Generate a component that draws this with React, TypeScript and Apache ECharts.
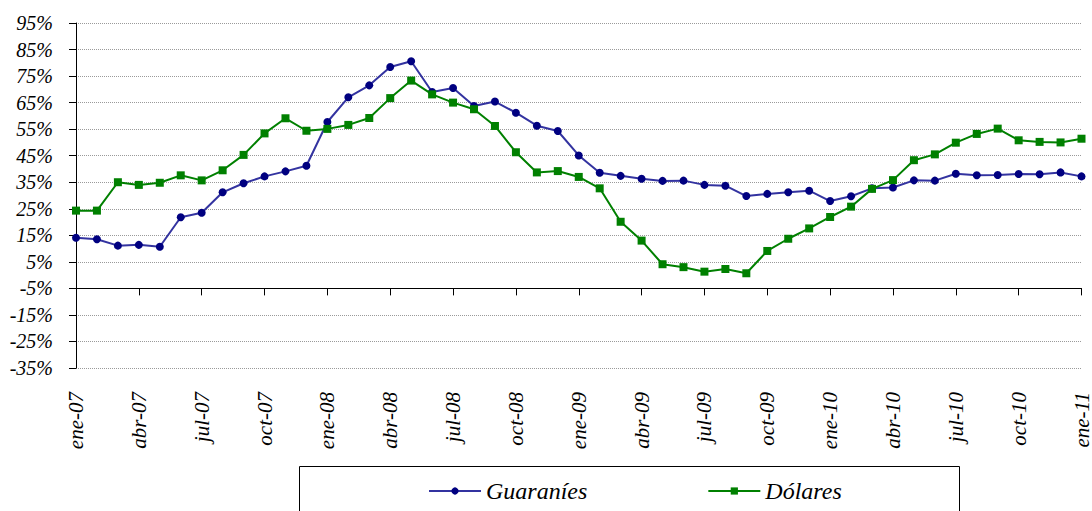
import React, { useEffect, useRef } from "react";
import * as echarts from "echarts";

const monthNames = ["ene", "feb", "mar", "abr", "may", "jun", "jul", "ago", "sep", "oct", "nov", "dic"];
const years = ["07", "08", "09", "10"];
const categories: string[] = [];
years.forEach((y) => monthNames.forEach((m) => categories.push(`${m}-${y}`)));
categories.push("ene-11");

const guaranies = [
  14.1, 13.5, 11.1, 11.4, 10.7, 21.8, 23.5, 31.2, 34.6, 37.2, 39.1, 41.2,
  57.7, 67.0, 71.5, 78.4, 80.6, 69.0, 70.5, 63.7, 65.4, 61.2, 56.3, 54.3,
  45.1, 38.6, 37.4, 36.3, 35.5, 35.6, 34.0, 33.7, 29.8, 30.6, 31.2, 31.8,
  27.9, 29.7, 32.7, 33.0, 35.7, 35.6, 38.2, 37.6, 37.7, 38.1, 38.0, 38.7,
  37.2,
];

const dolares = [
  24.3, 24.3, 35.0, 34.0, 34.8, 37.6, 35.7, 39.5, 45.3, 53.4, 59.1, 54.4,
  55.1, 56.6, 59.2, 66.7, 73.3, 68.1, 65.0, 62.5, 56.2, 46.3, 38.7, 39.2,
  37.0, 32.7, 20.1, 13.0, 4.1, 3.0, 1.3, 2.3, 0.7, 9.1, 13.7, 17.6,
  21.9, 25.8, 32.5, 35.8, 43.3, 45.5, 49.9, 53.2, 55.2, 50.8, 50.2, 50.0,
  51.4,
];

// axis range in percent; ticks every 10 starting at -35
const Y_MIN = -35;
const Y_MAX = 95;
const Y_STEP = 10;
// offset so that the tick origin is a multiple of the interval
const OFFSET = 5;

const FONT = "Liberation Serif";

export default function App() {
  const ref = useRef<HTMLDivElement>(null);
  useEffect(() => {
    if (!ref.current) return;
    const chart = echarts.init(ref.current, undefined, { renderer: "svg" });
    chart.setOption({
      animation: false,
      backgroundColor: "#ffffff",
      textStyle: { fontFamily: FONT },
      grid: { left: 76, right: 10, top: 23, bottom: 143, containLabel: false },
      xAxis: {
        type: "category",
        data: categories,
        boundaryGap: false,
        axisLine: { lineStyle: { color: "#000", width: 1 } },
        axisTick: { show: true, interval: 2, length: 7, lineStyle: { color: "#000" } },
        axisLabel: {
          interval: 2,
          rotate: 90,
          margin: 24,
          color: "#000",
          fontFamily: FONT,
          fontStyle: "italic",
          fontSize: 21,
        },
        splitLine: { show: false },
      },
      yAxis: {
        type: "value",
        min: Y_MIN + OFFSET,
        max: Y_MAX + OFFSET,
        interval: Y_STEP,
        axisLine: { show: true, lineStyle: { color: "#000", width: 1 } },
        axisTick: { show: true, length: 7, lineStyle: { color: "#000" } },
        axisLabel: {
          margin: 23,
          color: "#000",
          fontFamily: FONT,
          fontStyle: "italic",
          fontSize: 20,
          formatter: (v: number) => `${Math.round(v - OFFSET)}%`,
        },
        splitLine: { show: true, lineStyle: { color: "#9a9a9a", type: "dotted", width: 1 } },
      },
      legend: {
        left: 423,
        top: 474,
        itemWidth: 52,
        itemHeight: 9,
        itemGap: 120,
        textStyle: { fontFamily: FONT, fontStyle: "italic", fontSize: 24, color: "#000" },
        data: ["Guaraníes", "Dólares"],
      },
      graphic: [
        {
          type: "rect",
          shape: { x: 299.5, y: 466.5, width: 660, height: 60 },
          style: { fill: "none", stroke: "#000", lineWidth: 1 },
          silent: true,
        },
      ],
      series: [
        {
          name: "Guaraníes",
          type: "line",
          data: guaranies.map((v) => v + OFFSET),
          symbol: "circle",
          symbolSize: 8,
          showAllSymbol: true,
          lineStyle: { color: "#3333a0", width: 2 },
          itemStyle: { color: "#000080", borderWidth: 0 },
          color: "#000080",
        },
        {
          name: "Dólares",
          type: "line",
          data: dolares.map((v) => v + OFFSET),
          symbol: "rect",
          symbolSize: 8,
          showAllSymbol: true,
          lineStyle: { color: "#008000", width: 2 },
          itemStyle: { color: "#008000", borderWidth: 0 },
          color: "#008000",
        },
      ],
    });
    return () => chart.dispose();
  }, []);
  return (
    <div
      ref={ref}
      style={{ position: "fixed", left: 0, top: 0, width: 1092, height: 511, background: "#fff" }}
    />
  );
}
